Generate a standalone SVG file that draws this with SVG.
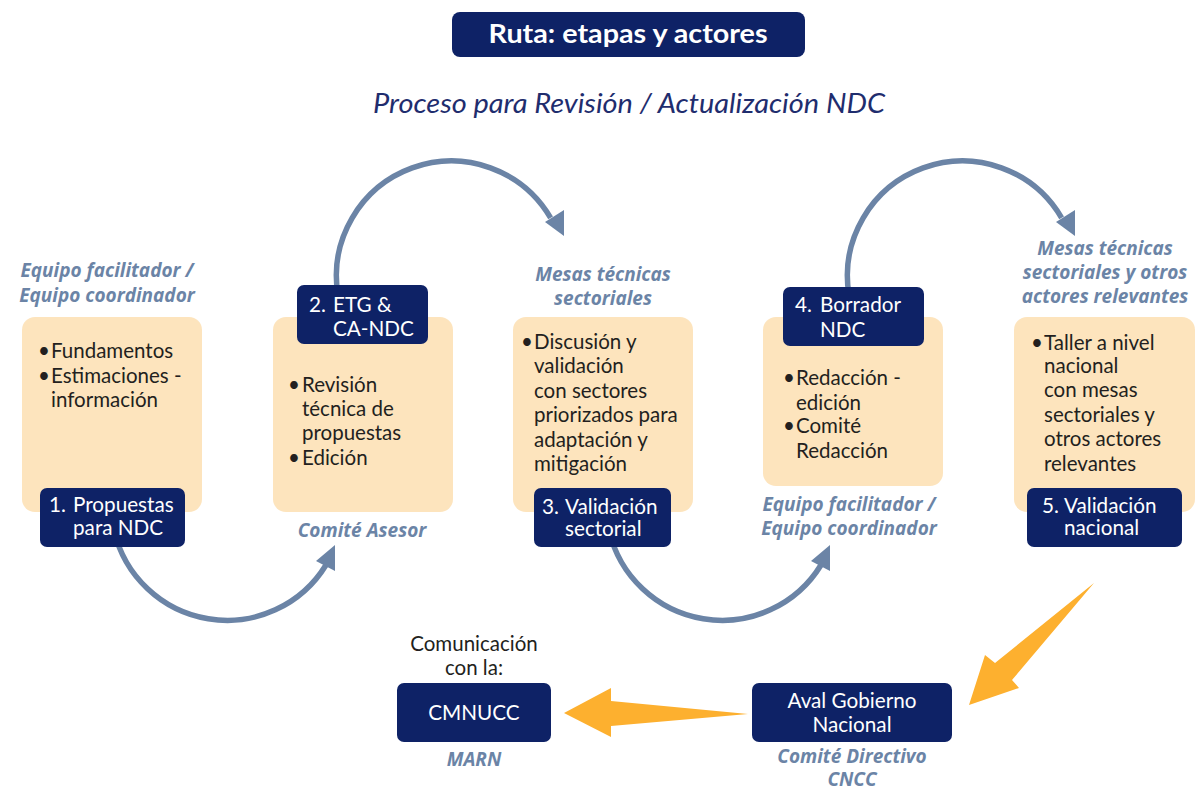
<svg xmlns="http://www.w3.org/2000/svg" width="1195" height="793" viewBox="0 0 1195 793">
<style>
text{font-family:Lato,"Open Sans","Liberation Sans",sans-serif}
.peach{fill:#fde4bd}
.navy{fill:#0e2266}
.wt{fill:#ffffff;font-size:20.7px}
.bd{fill:#231f20;font-size:20.5px}
.lb{fill:#6b84a6;font-family:"Open Sans","Liberation Sans",sans-serif;font-size:19px;font-weight:bold;font-style:italic;text-anchor:middle}
.arc{fill:none;stroke:#6b84a6;stroke-width:5.5}
.ah{fill:#6b84a6}
.or{fill:#fdb02f}
</style>
<rect width="1195" height="793" fill="#ffffff"/>
<g id="title">
<rect x="452" y="12" width="353" height="45" rx="8" class="navy"/>
<text x="628" y="43" text-anchor="middle" fill="#fff" font-family="'Open Sans','Liberation Sans',sans-serif" font-size="26" font-weight="bold" textLength="279" lengthAdjust="spacingAndGlyphs">Ruta: etapas y actores</text>
<text x="629" y="113" text-anchor="middle" fill="#1f2d6e" font-family="'Open Sans','Liberation Sans',sans-serif" font-size="27" font-style="italic" textLength="512" lengthAdjust="spacingAndGlyphs">Proceso para Revisión / Actualización NDC</text>
</g>
<g id="connectors">
<path class="arc" d="M114 530 A116 116 0 0 0 326 565"/>
<polygon class="ah" points="335,545 335,571 316,561"/>
<path class="arc" d="M338 295 A115 115 0 0 1 550.6 217.8"/>
<polygon class="ah" points="545,222 564,210 564,236"/>
<path class="arc" d="M609 530 A116 116 0 0 0 821 565"/>
<polygon class="ah" points="830,545 830,571 811,561"/>
<path class="arc" d="M849 295 A115 115 0 0 1 1061.6 217.8"/>
<polygon class="ah" points="1056,222 1075,210 1075,236"/>
<polygon class="or" points="1094,583 995,663 985,655 969,705 1019,688 1012,680"/>
<polygon class="or" points="748,714 611,701 611,688 564,713 611,737 611,726"/>
</g>
<g id="step1">
<rect x="22" y="317" width="180" height="195" rx="13" class="peach"/>
<text class="lb" x="107" y="277">Equipo facilitador /</text>
<text class="lb" x="107" y="302">Equipo coordinador</text>
<text class="bd" x="38" y="358">•</text><text class="bd" x="51" y="358">Fundamentos</text>
<text class="bd" x="38" y="383">•</text><text class="bd" x="51" y="383">Estimaciones -</text>
<text class="bd" x="51" y="407">información</text>
<rect x="40" y="488" width="145" height="59" rx="7" class="navy"/>
<text class="wt" x="49" y="512">1.</text><text class="wt" x="73" y="512">Propuestas</text>
<text class="wt" x="73" y="535">para NDC</text>
</g>
<g id="step2">
<rect x="273" y="317" width="180" height="195" rx="13" class="peach"/>
<rect x="297" y="285" width="131" height="59" rx="7" class="navy"/>
<text class="wt" x="309" y="312">2.</text><text class="wt" x="333" y="312">ETG &amp;</text>
<text class="wt" x="333" y="336">CA-NDC</text>
<text class="bd" x="288" y="392">•</text><text class="bd" x="302" y="392">Revisión</text>
<text class="bd" x="302" y="416">técnica de</text>
<text class="bd" x="302" y="440">propuestas</text>
<text class="bd" x="288" y="465">•</text><text class="bd" x="302" y="465">Edición</text>
<text class="lb" x="362" y="537">Comité Asesor</text>
</g>
<g id="step3">
<rect x="513" y="317" width="180" height="195" rx="13" class="peach"/>
<text class="lb" x="603" y="281">Mesas técnicas</text>
<text class="lb" x="603" y="305">sectoriales</text>
<text class="bd" x="521" y="349">•</text><text class="bd" x="534" y="349">Discusión y</text>
<text class="bd" x="534" y="373">validación</text>
<text class="bd" x="534" y="398">con sectores</text>
<text class="bd" x="534" y="422">priorizados para</text>
<text class="bd" x="534" y="447">adaptación y</text>
<text class="bd" x="534" y="471">mitigación</text>
<rect x="534" y="488" width="137" height="59" rx="7" class="navy"/>
<text class="wt" x="542" y="514">3.</text><text class="wt" x="565" y="514">Validación</text>
<text class="wt" x="565" y="536">sectorial</text>
</g>
<g id="step4">
<rect x="763" y="317" width="180" height="169" rx="13" class="peach"/>
<rect x="783" y="287" width="141" height="59" rx="7" class="navy"/>
<text class="wt" x="795" y="312">4.</text><text class="wt" x="820" y="312">Borrador</text>
<text class="wt" x="820" y="337">NDC</text>
<text class="bd" x="783" y="385">•</text><text class="bd" x="796" y="385">Redacción -</text>
<text class="bd" x="796" y="410">edición</text>
<text class="bd" x="783" y="433">•</text><text class="bd" x="796" y="433">Comité</text>
<text class="bd" x="796" y="458">Redacción</text>
<text class="lb" x="849" y="511">Equipo facilitador /</text>
<text class="lb" x="849" y="535">Equipo coordinador</text>
</g>
<g id="step5">
<rect x="1014" y="317" width="181" height="195" rx="13" class="peach"/>
<text class="lb" x="1105" y="255">Mesas técnicas</text>
<text class="lb" x="1105" y="279">sectoriales y otros</text>
<text class="lb" x="1105" y="303">actores relevantes</text>
<text class="bd" x="1031" y="350">•</text><text class="bd" x="1044" y="350">Taller a nivel</text>
<text class="bd" x="1044" y="373">nacional</text>
<text class="bd" x="1044" y="397">con mesas</text>
<text class="bd" x="1044" y="422">sectoriales y</text>
<text class="bd" x="1044" y="446">otros actores</text>
<text class="bd" x="1044" y="471">relevantes</text>
<rect x="1027" y="488" width="155" height="59" rx="7" class="navy"/>
<text class="wt" x="1042" y="513">5.</text><text class="wt" x="1064" y="513">Validación</text>
<text class="wt" x="1064" y="535">nacional</text>
</g>
<g id="aval">
<rect x="752" y="683" width="200" height="59" rx="7" class="navy"/>
<text class="wt" x="852" y="708" text-anchor="middle">Aval Gobierno</text>
<text class="wt" x="852" y="732" text-anchor="middle">Nacional</text>
<text class="lb" x="852" y="763" font-size="18">Comité Directivo</text>
<text class="lb" x="852" y="786" font-size="18">CNCC</text>
</g>
<g id="cmnucc">
<text class="bd" x="474" y="651" text-anchor="middle">Comunicación</text>
<text class="bd" x="474" y="675" text-anchor="middle">con la:</text>
<rect x="397" y="683" width="154" height="59" rx="7" class="navy"/>
<text class="wt" x="474" y="720" text-anchor="middle">CMNUCC</text>
<text class="lb" x="474" y="766">MARN</text>
</g>
</svg>
